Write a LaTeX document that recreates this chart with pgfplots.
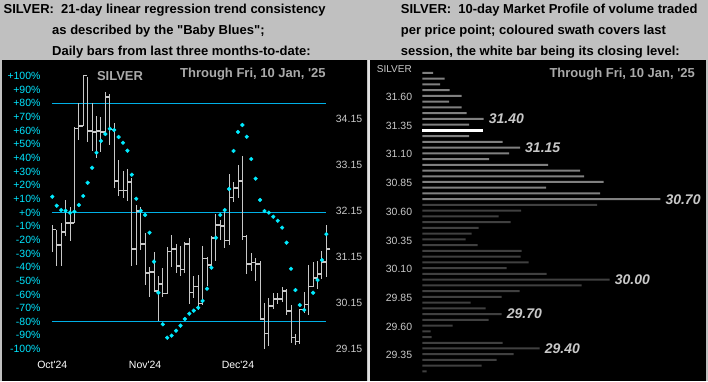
\documentclass[border=0pt]{standalone}
\usepackage{pgfplots}
\pgfplotsset{compat=1.18}
\usepackage{pgfplotstable}
\usepackage{fontspec}
\setmainfont{Liberation Sans}
\definecolor{bgsilver}{RGB}{192,192,192}
\definecolor{cyanline}{RGB}{0,176,230}
\definecolor{cyandot}{RGB}{0,235,255}
\definecolor{cyanlab}{RGB}{0,230,255}
\definecolor{barcol}{RGB}{200,200,200}
\definecolor{txtgray}{RGB}{170,170,170}
\definecolor{lblgray}{RGB}{200,200,200}
\definecolor{swath}{RGB}{128,128,128}
\definecolor{darkbar}{RGB}{64,64,64}

\pgfplotstableread{
i h l c
0 31.85 31.27 31.75
1 31.75 30.96 31.41
2 31.89 30.96 31.70
3 32.39 31.62 31.90
4 32.25 31.51 31.90
5 33.99 31.90 33.95
6 34.50 33.69 34.00
7 35.11 34.00 35.10
8 35.08 33.65 33.90
9 34.50 33.45 33.88
10 34.22 33.30 33.90
11 34.21 33.43 33.88
12 34.74 33.81 34.64
13 34.69 33.59 33.93
14 34.06 32.66 32.81
15 33.26 32.49 32.60
16 33.02 32.43 32.60
17 33.07 32.37 32.79
18 32.87 30.96 31.32
19 32.28 30.98 32.16
20 32.23 31.31 31.44
21 31.68 30.54 30.81
22 30.94 30.29 30.83
23 31.27 30.40 30.42
24 30.74 29.76 30.56
25 30.91 30.29 30.36
26 31.36 30.34 31.27
27 31.63 30.94 31.32
28 31.43 30.81 30.96
29 31.39 30.74 30.88
30 31.47 30.81 31.44
31 31.56 30.12 30.38
32 30.74 30.25 30.51
33 30.76 30.00 30.14
34 31.39 30.11 31.12
35 31.16 30.52 30.98
36 31.60 30.92 31.57
37 32.09 31.07 31.85
38 31.96 31.52 31.83
39 32.16 31.34 31.51
40 32.96 31.41 32.45
41 32.79 32.34 32.66
42 33.16 32.43 32.81
43 33.36 31.52 31.60
44 31.63 30.78 31.00
45 31.25 30.85 31.03
46 31.14 30.64 31.00
47 31.07 29.78 29.80
48 30.16 29.16 29.49
49 30.25 29.22 30.09
50 30.36 30.01 30.24
51 30.36 30.12 30.24
52 30.49 30.17 30.42
53 30.46 29.90 29.98
54 30.11 29.27 29.40
55 29.47 29.24 29.31
56 30.02 29.25 30.01
57 30.40 29.93 30.12
58 30.98 29.90 30.51
59 31.05 30.49 30.69
60 31.07 30.46 30.78
61 31.28 30.67 31.05
62 31.85 30.72 31.32
}\ohlc

\pgfplotstableread{
i b
0 11.6
1 5.0
2 1.8
3 1.3
4 -0.1
5 0.6
6 5.5
7 12.1
8 21.8
9 32.8
10 43.8
11 52.4
12 57.5
13 61.4
14 60.4
15 55.3
16 51.1
17 45.3
18 27.7
19 10.1
20 1.3
21 -1.8
22 -14.8
23 -36.0
24 -58.8
25 -81.9
26 -91.7
27 -90.2
28 -86.6
29 -82.9
30 -78.0
31 -74.1
32 -71.9
33 -69.7
34 -64.8
35 -55.8
36 -40.4
37 -18.5
38 -1.8
39 1.8
40 17.2
41 45.1
42 59.0
43 64.1
44 55.5
45 39.2
46 24.8
47 9.2
48 1.1
49 -0.1
50 -3.1
51 -6.0
52 -11.1
53 -22.1
54 -41.2
55 -56.8
56 -67.8
57 -71.4
59 -58.8
60 -49.5
61 -34.8
62 -15.8
}\blues

\pgfplotstableread{
p v
31.80 10.7
31.75 22.4
31.70 17.7
31.65 27.4
31.60 39.4
31.55 26.7
31.50 39.4
31.45 44.4
31.40 61.4
31.35 46.7
31.25 46.7
31.20 80.4
31.15 97.7
31.10 86.7
31.05 66.7
31.00 125.7
30.95 157.7
30.90 161.7
30.85 181.4
30.80 123.7
30.75 177.7
30.70 238.0
}\swathtab

\pgfplotstableread{
p v
30.65 174.7
30.60 98.7
30.55 76.4
30.50 88.4
30.45 56.4
30.40 49.4
30.35 43.4
30.30 55.4
30.25 99.4
30.20 98.4
30.15 106.4
30.10 84.4
30.05 124.4
30.00 187.4
29.95 159.4
29.90 97.4
29.85 79.4
29.80 48.4
29.75 63.4
29.70 79.4
29.65 66.4
29.60 30.4
29.55 8.4
29.50 9.4
29.45 80.4
29.40 117.4
29.35 91.4
29.30 74.4
29.25 59.4
29.20 4.4
}\darktab

\pgfplotsset{
  panel/.style={scale only axis, anchor=south west,
    axis line style={draw=none}, tick style={draw=none}, major tick length=0pt,
    clip=false},
  leftpanel/.style={panel, at={(44pt,27pt)}, width=290pt, height=288pt,
    xmin=-1.878, xmax=63.73},
  labfont/.style={font=\fontsize{10.5}{12}\selectfont}
}

\begin{document}
\begin{tikzpicture}
\useasboundingbox (0pt,0pt) rectangle (708pt,381pt);
\fill[bgsilver] (0pt,0pt) rectangle (708pt,381pt);
\fill[black] (2pt,0pt) rectangle (367pt,321pt);
\fill[black] (370pt,0pt) rectangle (706pt,321pt);
\fill[white!88!black] (368pt,0pt) rectangle (369.5pt,321pt);

% percent axis: reference lines and left labels
\begin{axis}[leftpanel, ymin=-103.66, ymax=107.33, xtick=\empty,
  ytick={-100,-90,-80,-70,-60,-50,-40,-30,-20,-10,0,10,20,30,40,50,60,70,80,90,100},
  yticklabels={-100\%,-90\%,-80\%,-70\%,-60\%,-50\%,-40\%,-30\%,-20\%,-10\%,+0\%,+10\%,+20\%,+30\%,+40\%,+50\%,+60\%,+70\%,+80\%,+90\%,+100\%},
  yticklabel style={labfont, text=cyanlab, anchor=east, inner sep=0pt, xshift=-3.3pt}]
\addplot[cyanline, line width=1pt] coordinates {(-0.1,80) (61.9,80)};
\addplot[cyanline, line width=1pt] coordinates {(-0.1,0) (61.9,0)};
\addplot[cyanline, line width=1pt] coordinates {(-0.1,-80) (61.9,-80)};
\end{axis}

% price axis: daily bars
\begin{axis}[leftpanel, ymin=29.041, ymax=35.310,
  xtick={0,21,42}, xticklabels={Oct\textquotesingle 24,Nov\textquotesingle 24,Dec\textquotesingle 24},
  xticklabel style={labfont, text=white, anchor=center, yshift=-11pt},
  ytick={29.15,30.15,31.15,32.15,33.15,34.15},
  yticklabels={29.15,30.15,31.15,32.15,33.15,34.15},
  yticklabel pos=right,
  yticklabel style={labfont, text=lblgray, anchor=west, inner sep=0pt, xshift=1.7pt}]
\addplot[only marks, mark=-, mark size=2pt, color=barcol,
  mark options={xshift=2pt, line width=1.7pt},
  error bars/.cd, y dir=both, y explicit,
  error bar style={line width=0.9pt, color=barcol}, error mark=none]
  table[x=i, y=c, y error plus expr=\thisrow{h}-\thisrow{c}, y error minus expr=\thisrow{c}-\thisrow{l}] {\ohlc};
\end{axis}

% percent axis: Baby Blues
\begin{axis}[leftpanel, ymin=-103.66, ymax=107.33, xtick=\empty, ytick=\empty]
\addplot[only marks, mark=*, mark size=1.9pt, color=cyandot] table[x=i, y=b] {\blues};
\end{axis}

% market profile
\begin{axis}[panel, at={(422.3pt,3pt)}, width=283.7pt, height=316pt,
  xmin=0, xmax=283.7, ymin=29.143, ymax=31.895, xtick=\empty,
  ytick={29.35,29.60,29.85,30.10,30.35,30.60,30.85,31.10,31.35,31.60},
  yticklabels={29.35,29.60,29.85,30.10,30.35,30.60,30.85,31.10,31.35,31.60},
  yticklabel style={labfont, text=lblgray, anchor=east, inner sep=0pt, xshift=-10pt, yshift=-1pt}]
\addplot[xbar, bar width=2pt, bar shift=0pt, fill=swath, draw=none] table[x=v, y=p] {\swathtab};
\addplot[xbar, bar width=2pt, bar shift=0pt, fill=darkbar, draw=none] table[x=v, y=p] {\darktab};
\addplot[xbar, bar width=3pt, bar shift=0pt, fill=white, draw=none] coordinates {(60.7,31.30)};
\begin{scope}[every node/.style={anchor=west, inner sep=0pt, xshift=5pt, text=lblgray,
  font=\fontsize{14}{16}\selectfont\bfseries\itshape}]
\node at (axis cs:61.4,31.40) {31.40};
\node at (axis cs:97.7,31.15) {31.15};
\node at (axis cs:238.0,30.70) {30.70};
\node at (axis cs:187.4,30.00) {30.00};
\node at (axis cs:79.4,29.70) {29.70};
\node at (axis cs:117.4,29.40) {29.40};
\end{scope}
\end{axis}

% titles
\begin{scope}[every node/.style={anchor=base west, inner sep=0pt, font=\fontsize{13}{15}\selectfont\bfseries, text=black}]
\node at (3.5pt,367pt) {SILVER:\ \ 21-day linear regression trend consistency};
\node at (52pt,346pt) {as described by the \textquotedbl Baby Blues\textquotedbl;};
\node at (52pt,325.5pt) {Daily bars from last three months-to-date:};
\node at (400.7pt,367pt) {SILVER:\ \ 10-day Market Profile of volume traded};
\node at (400.7pt,346pt) {per price point; coloured swath covers last};
\node at (400.7pt,325.5pt) {session, the white bar being its closing level:};
\end{scope}

\node[anchor=center, inner sep=0pt, text=txtgray, font=\fontsize{13}{15}\selectfont\bfseries] at (120pt,305pt) {SILVER};
\node[anchor=base west, inner sep=0pt, text=txtgray, font=\fontsize{13}{15}\selectfont\bfseries] at (180pt,303pt) {Through Fri, 10 Jan, \textquotesingle 25};
\node[anchor=base west, inner sep=0pt, text=txtgray, font=\fontsize{13}{15}\selectfont\bfseries] at (549.3pt,304pt) {Through Fri, 10 Jan, \textquotesingle 25};
\node[anchor=base west, inner sep=0pt, text=lblgray, font=\fontsize{10}{12}\selectfont] at (376.7pt,308.4pt) {SILVER};
\end{tikzpicture}
\end{document}
